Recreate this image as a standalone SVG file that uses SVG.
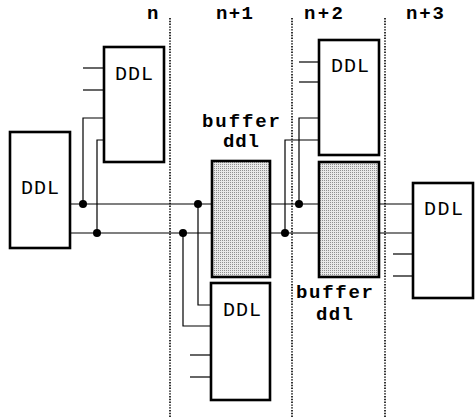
<svg xmlns="http://www.w3.org/2000/svg" width="476" height="418" viewBox="0 0 476 418">
<defs>
<pattern id="stip" width="2" height="2" patternUnits="userSpaceOnUse">
<rect width="2" height="2" fill="#e8e8e8"/>
<rect width="1" height="1" fill="#8f8f8f"/>
</pattern>
<style>
.box{fill:#fff;stroke:#000;stroke-width:2.6}
.buf{fill:url(#stip);stroke:#000;stroke-width:2.6}
.w{fill:none;stroke:#000;stroke-width:1.2}
.sep{stroke:#000;stroke-width:1.6;stroke-dasharray:1.4 1.4}
.dot{fill:#000}
.lbl{font-family:"Liberation Mono","DejaVu Sans Mono",monospace;font-size:20px;fill:#000}
.hd{font-family:"Liberation Mono","DejaVu Sans Mono",monospace;font-size:19px;font-weight:bold;fill:#000}
.bl{font-family:"Liberation Mono","DejaVu Sans Mono",monospace;font-size:19px;font-weight:bold;fill:#000}
</style>
</defs>
<rect width="476" height="418" fill="#fff"/>
<g id="separators">
<line class="sep" x1="170" y1="18" x2="170" y2="418"/>
<line class="sep" x1="292" y1="18" x2="292" y2="418"/>
<line class="sep" x1="385" y1="18" x2="385" y2="418"/>
</g>
<g id="headers">
<text class="hd" x="147" y="19" textLength="12">n</text>
<text class="hd" x="216" y="19" textLength="37">n+1</text>
<text class="hd" x="304" y="19" textLength="39">n+2</text>
<text class="hd" x="406" y="19" textLength="38">n+3</text>
</g>
<g id="connectors">
<polyline class="w" points="70,204 212,204"/>
<polyline class="w" points="70,233 212,233"/>
<polyline class="w" points="270,204 319,204"/>
<polyline class="w" points="270,233 319,233"/>
<polyline class="w" points="379,204 413,204"/>
<polyline class="w" points="379,233 413,233"/>
<polyline class="w" points="83,204 83,118 104,118"/>
<polyline class="w" points="97,233 97,140 104,140"/>
<line class="w" x1="83" y1="68" x2="104" y2="68"/>
<line class="w" x1="83" y1="90" x2="104" y2="90"/>
<polyline class="w" points="198,204 198,305 211,305"/>
<polyline class="w" points="183,233 183,326 211,326"/>
<line class="w" x1="190" y1="355" x2="211" y2="355"/>
<line class="w" x1="190" y1="377" x2="211" y2="377"/>
<polyline class="w" points="299,204 299,118 319,118"/>
<polyline class="w" points="285,233 285,140 319,140"/>
<line class="w" x1="299" y1="62" x2="319" y2="62"/>
<line class="w" x1="299" y1="82" x2="319" y2="82"/>
<line class="w" x1="393" y1="254" x2="413" y2="254"/>
<line class="w" x1="393" y1="276" x2="413" y2="276"/>
<circle class="dot" cx="83" cy="204" r="4"/>
<circle class="dot" cx="97" cy="233" r="4"/>
<circle class="dot" cx="198" cy="204" r="4"/>
<circle class="dot" cx="183" cy="233" r="4"/>
<circle class="dot" cx="299" cy="204" r="4"/>
<circle class="dot" cx="285" cy="233" r="4"/>
</g>
<g id="ddl-left">
<rect class="box" x="10" y="132" width="60" height="116"/>
<text class="lbl" x="21" y="194" textLength="38">DDL</text>
</g>
<g id="ddl-n-top">
<rect class="box" x="104" y="47" width="60" height="115"/>
<text class="lbl" x="115" y="80" textLength="38">DDL</text>
</g>
<g id="buffer-1">
<rect class="buf" x="212" y="161" width="58" height="116"/>
<text class="bl" x="202" y="127" textLength="78">buffer</text>
<text class="bl" x="223" y="147" textLength="36">ddl</text>
</g>
<g id="ddl-n1-bottom">
<rect class="box" x="211" y="283" width="59" height="117"/>
<text class="lbl" x="223" y="316" textLength="38">DDL</text>
</g>
<g id="ddl-n2-top">
<rect class="box" x="319" y="40" width="60" height="115"/>
<text class="lbl" x="331" y="72" textLength="38">DDL</text>
</g>
<g id="buffer-2">
<rect class="buf" x="319" y="162" width="60" height="115"/>
<text class="bl" x="296" y="298" textLength="77">buffer</text>
<text class="bl" x="316" y="320" textLength="37">ddl</text>
</g>
<g id="ddl-n3">
<rect class="box" x="413" y="183" width="60" height="115"/>
<text class="lbl" x="424" y="215" textLength="39">DDL</text>
</g>
</svg>
